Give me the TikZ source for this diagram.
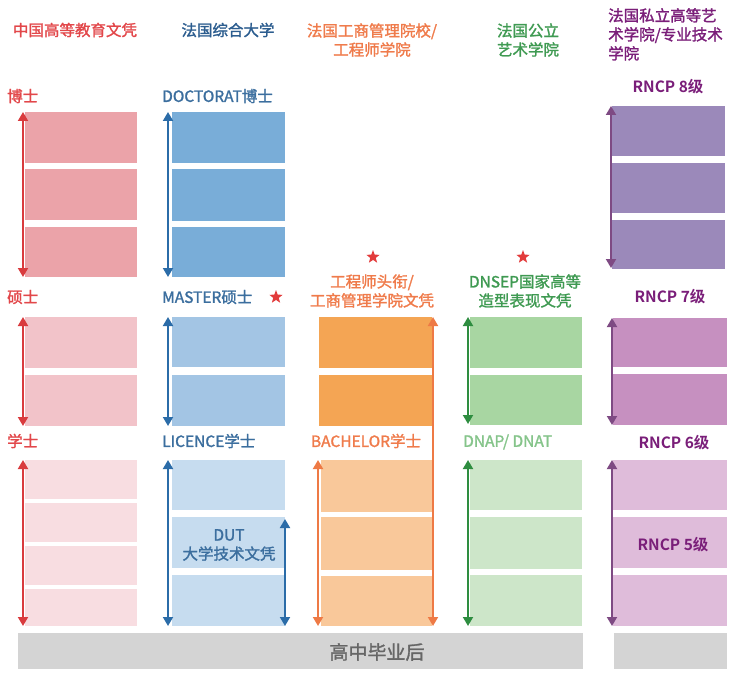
\documentclass[tikz,border=0pt]{standalone}
\usepackage{fontspec}
\setmainfont{Noto Sans CJK SC}[BoldFont={Noto Sans CJK SC Bold}]
\newfontfamily\medf{Noto Sans CJK SC}[FakeBold=1.6]
\usetikzlibrary{arrows.meta,shapes.geometric}
\definecolor{rT}{HTML}{E2474A}\definecolor{rA}{HTML}{D93B3E}
\definecolor{rD}{HTML}{EBA3A9}\definecolor{rM}{HTML}{F2C3C9}\definecolor{rB}{HTML}{F8DDE1}
\definecolor{bT}{HTML}{3B6E9E}\definecolor{bH}{HTML}{2C5D8F}\definecolor{bA}{HTML}{2B6CA8}
\definecolor{bD}{HTML}{79ADD8}\definecolor{bM}{HTML}{A3C5E4}\definecolor{bB}{HTML}{C6DCEF}
\definecolor{oT}{HTML}{EF7B4B}\definecolor{oA}{HTML}{EE7A45}
\definecolor{oM}{HTML}{F4A554}\definecolor{oB}{HTML}{F9C89A}
\definecolor{gT}{HTML}{3F9A52}\definecolor{gL}{HTML}{85C48A}\definecolor{gA}{HTML}{2E8D40}
\definecolor{gM}{HTML}{A8D6A2}\definecolor{gB}{HTML}{CDE6C9}
\definecolor{pT}{HTML}{7A1E79}\definecolor{pA}{HTML}{7E4A83}
\definecolor{pD}{HTML}{9B89BA}\definecolor{pM}{HTML}{C690C0}\definecolor{pB}{HTML}{DFBCDA}
\definecolor{grey}{HTML}{D4D4D4}\definecolor{greyT}{HTML}{666666}
\definecolor{starC}{HTML}{E23B3B}
\newcommand\blk[6]{\node[blk,fill=#2,minimum width={(#5-#3)*1pt},minimum height={(#6-#4)*1pt}] (#1) at ({(#3+#5)/2},{(#4+#6)/2}) {};}
\newcommand\varr[5]{\coordinate (#1t) at (#3,#4); \coordinate (#1b) at (#3,#5); \draw[arr,#2] (#1t) -- (#1b);}
\begin{document}
\begin{tikzpicture}[x=1pt,y=-1pt,
  blk/.style={draw=none,inner sep=0,outer sep=0,rectangle},
  arr/.style={line width=1.8pt,{Triangle[width=10pt,length=9pt]}-{Triangle[width=10pt,length=9pt]}},
  txt/.style={inner sep=0,font=\medf\fontsize{15.5}{19}\selectfont},
  rncp/.style={inner sep=0,font=\fontsize{15.5}{19}\selectfont\bfseries,text=pT},
  starN/.style={star,star points=5,star point ratio=2.4,fill=starC,minimum size=14pt,inner sep=0}]
\useasboundingbox (0,0) rectangle (742,682);
% ---------- headers
\node[txt,text=rT] (h1) at (75,30) {中国高等教育文凭};
\node[txt,text=bH] (h2) at (228,30) {法国综合大学};
\node[txt,text=oT,align=center] (h3) at (372,40) {法国工商管理院校/\\工程师学院};
\node[txt,text=gT,align=center] (h4) at (528,40) {法国公立\\艺术学院};
\node[txt,text=pT,align=left,anchor=north west] (h5) at (608,8) {法国私立高等艺\\术学院/专业技术\\学院};
% ---------- red column
\node[txt,text=rT,anchor=west] (l1) at (7,96) {博士};
\blk{r1}{rD}{25}{112}{137}{163}\blk{r2}{rD}{25}{169}{137}{220}\blk{r3}{rD}{25}{227}{137}{277}
\varr{ra}{rA}{23}{112}{277}
\node[txt,text=rT,anchor=west] (l2) at (7,297) {硕士};
\blk{r4}{rM}{25}{317}{137}{368}\blk{r5}{rM}{25}{375}{137}{426}
\varr{rb}{rA}{23}{317}{426}
\node[txt,text=rT,anchor=west] (l3) at (7,441) {学士};
\blk{r6}{rB}{25}{460}{137}{499}\blk{r7}{rB}{25}{503}{137}{542}\blk{r8}{rB}{25}{546}{137}{585}\blk{r9}{rB}{25}{589}{137}{626}
\varr{rc}{rA}{23}{460}{626}
% ---------- blue column
\node[txt,text=bT,anchor=west] (l4) at (162,96) {DOCTORAT博士};
\blk{b1}{bD}{172}{112}{285}{163}\blk{b2}{bD}{172}{169}{285}{221}\blk{b3}{bD}{172}{227}{285}{277}
\varr{ba}{bA}{168}{112}{277}
\node[txt,text=bT,anchor=west] (l5) at (162,297) {MASTER硕士};
\node[starN] (s1) at (276,297) {};
\blk{b4}{bM}{172}{317}{285}{367}\blk{b5}{bM}{172}{375}{285}{426}
\varr{bb}{bA}{168}{317}{426}
\node[txt,text=bT,anchor=west] (l6) at (162,441) {LICENCE学士};
\blk{b6}{bB}{172}{460}{285}{510}\blk{b7}{bB}{172}{517}{285}{568}\blk{b8}{bB}{172}{575}{285}{626}
\varr{bc}{bA}{168}{460}{626}
\varr{bd}{bA}{285}{519}{626}
\node[txt,text=bT,align=center] (dut) at (229,545) {DUT\\大学技术文凭};
% ---------- orange column
\node[starN] (s2) at (373,257) {};
\node[txt,text=oT,align=center] (l7) at (372,291) {工程师头衔/\\工商管理学院文凭};
\blk{o1}{oM}{319}{317}{432}{368}\blk{o2}{oM}{319}{375}{432}{426}
\node[txt,text=oT] (l8) at (366,441) {BACHELOR学士};
\blk{o3}{oB}{321}{460}{432}{512}\blk{o4}{oB}{321}{517}{432}{570}\blk{o5}{oB}{321}{576}{432}{626}
\varr{oa}{oA}{318}{460}{626}
\varr{ob}{oA}{433}{317}{626}
% ---------- green column
\node[starN] (s3) at (523,257) {};
\node[txt,text=gT,align=center] (l9) at (525,291) {DNSEP国家高等\\造型表现文凭};
\blk{g1}{gM}{470}{317}{582}{368}\blk{g2}{gM}{470}{375}{582}{425}
\varr{ga}{gA}{468}{317}{424}
\node[txt,text=gL,anchor=west] (l10) at (463,442) {DNAP/ DNAT};
\blk{g3}{gB}{470}{460}{582}{510}\blk{g4}{gB}{470}{517}{582}{569}\blk{g5}{gB}{470}{575}{582}{626}
\varr{gb}{gA}{468}{460}{626}
% ---------- purple column
\node[rncp] (l11) at (668,87) {RNCP 8级};
\blk{p1}{pD}{612}{106}{725}{156}\blk{p2}{pD}{612}{163}{725}{213}\blk{p3}{pD}{612}{220}{725}{269}
\varr{pa}{pA}{611}{106}{268}
\node[rncp] (l12) at (670,297) {RNCP 7级};
\blk{p4}{pM}{613}{318}{727}{367}\blk{p5}{pM}{613}{374}{727}{425}
\varr{pb}{pA}{612}{318}{425}
\node[rncp] (l13) at (674,443) {RNCP 6级};
\blk{p6}{pB}{613}{460}{727}{510}\blk{p7}{pB}{613}{517}{727}{568}\blk{p8}{pB}{613}{575}{727}{626}
\varr{pc}{pA}{612}{460}{626}
\node[rncp] (l14) at (673,545) {RNCP 5级};
% ---------- base
\blk{base}{grey}{18}{633}{583}{669}
\blk{base2}{grey}{614}{633}{727}{669}
\node[inner sep=0,font=\medf\fontsize{19}{22}\selectfont,text=greyT] (bt) at (377,652) {高中毕业后};
\end{tikzpicture}
\end{document}
